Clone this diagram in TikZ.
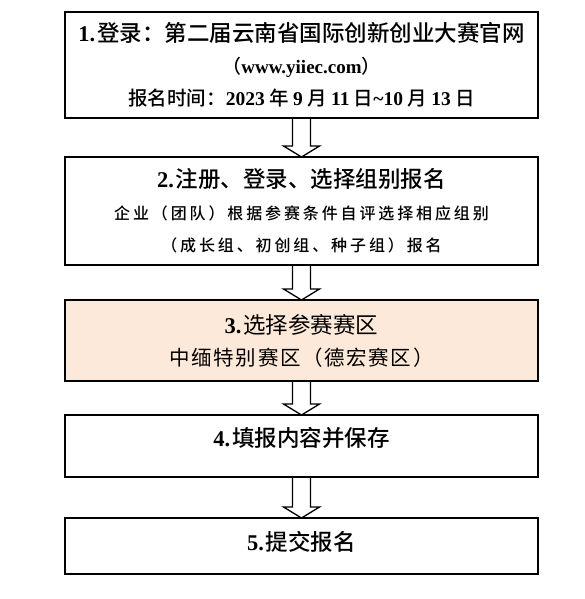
\documentclass[tikz,border=0pt]{standalone}
\usepackage{fontspec}
\usepackage{xcolor}
\setmainfont{Noto Sans CJK SC}[BoldFont={* Medium}]
\newfontfamily\lat{Liberation Serif}
\newfontfamily\spaced{Noto Sans CJK SC}[LetterSpace=18, BoldFont={* Medium}]
\newfontfamily\spacedb{Noto Sans CJK SC}[LetterSpace=8]
\usetikzlibrary{positioning, calc}
\definecolor{cPeach}{RGB}{253,233,217}
\tikzset{
	stepbox/.style={rectangle, draw=black, line width=2pt, minimum width=473pt, outer sep=0pt, inner sep=0pt, align=center, font=\bfseries\fontsize{22.5}{32}\selectfont},
	hollowarrow/.style={draw=black, line width=1.3pt, line join=miter},
}
% hollow block arrow from the bottom of one box to the top of the next
\newcommand{\blockarrow}[2]{%
	\draw[hollowarrow, xshift=-4pt] ($(#1.south)+(-9,0)$) -- ($(#2.north)+(-9,11)$) -- ++(-9,0) -- (#2.north) -- ++(18,11) -- ++(-9,0) -- ($(#1.south)+(9,0)$);}

\begin{document}
\begin{tikzpicture}[x=1pt, y=1pt]
	\useasboundingbox (0,0) rectangle (584,-599);
	\node[stepbox, minimum height=106pt] (login) at (301.5,-65)
		{{\lat 1.}\hspace{2pt}登录：第二届云南省国际创新创业大赛官网\\
		 {\fontsize{19}{20}\selectfont （{\lat www.yiiec.com}）}\\
		 {\fontsize{19.5}{20}\selectfont 报名时间：{\lat 2023} 年 {\lat 9} 月 {\lat 11} 日{\lat\textasciitilde 10} 月 {\lat 13} 日}};
	\node[stepbox, minimum height=108pt, below=39pt of login] (signup)
		{{\lat 2.}\hspace{2pt}注册、登录、选择组别报名\\
		 {\spaced\fontsize{16}{20}\selectfont 企业（团队）根据参赛条件自评选择相应组别}\\
		 {\spaced\fontsize{16}{20}\selectfont （成长组、初创组、种子组）报名}};
	\node[stepbox, minimum height=81pt, below=35pt of signup, fill=cPeach, font=\mdseries\fontsize{22.5}{32}\selectfont] (zone)
		{{\lat\bfseries 3.}\hspace{2pt}选择参赛赛区\\
		 {\spacedb\fontsize{20.5}{24}\selectfont 中缅特别赛区（德宏赛区）}};
	\node[stepbox, minimum height=62pt, below=34pt of zone, text depth=18pt] (save)
		{{\lat 4.}\hspace{2pt}填报内容并保存};
	\node[stepbox, minimum height=56pt, below=41pt of save, text depth=10pt] (submit)
		{{\lat 5.}\hspace{2pt}提交报名};
	\blockarrow{login}{signup}
	\blockarrow{signup}{zone}
	\blockarrow{zone}{save}
	\blockarrow{save}{submit}
\end{tikzpicture}
\end{document}
